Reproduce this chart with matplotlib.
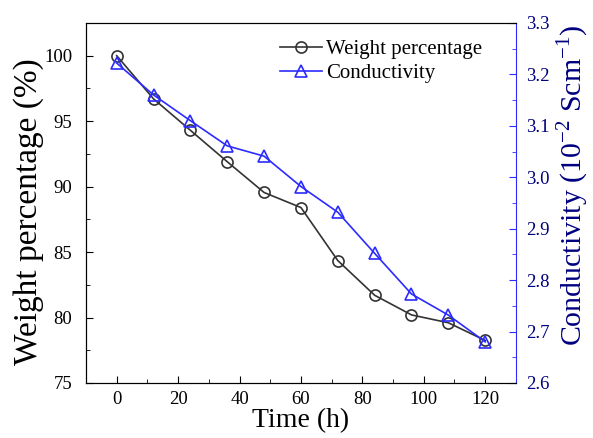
import matplotlib
matplotlib.use("Agg")
import matplotlib.pyplot as plt
from matplotlib.ticker import MultipleLocator

# data
time_h = [0, 12, 24, 36, 48, 60, 72, 84, 96, 108, 120]
weight_pct = [100.0, 96.7, 94.3, 91.9, 89.55, 88.4, 84.35, 81.7, 80.2, 79.6, 78.25]
conductivity = [3.222, 3.16, 3.11, 3.061, 3.041, 2.982, 2.932, 2.852, 2.773, 2.732, 2.68]

plt.rcParams["font.family"] = ["Liberation Serif", "DejaVu Serif"]
plt.rcParams["mathtext.fontset"] = "custom"
plt.rcParams["mathtext.rm"] = "Liberation Serif"

BLUE = "#2b2bff"
NAVY = "#000080"

fig = plt.figure(figsize=(5.93, 4.38), dpi=100)
ax = fig.add_axes([0.145, 0.1256, 0.725, 0.822])
ax2 = ax.twinx()

l1, = ax.plot(time_h, weight_pct, color="#333333", lw=1.2, marker="o", ms=8,
              mfc="none", mec="#333333", mew=1.2, label="Weight percentage")
l2, = ax2.plot(time_h, conductivity, color=BLUE, lw=1.2, marker="^", ms=9,
               mfc="none", mec=BLUE, mew=1.2, label="Conductivity")

ax.set_xlim(-10, 130)
ax.set_ylim(75, 102.5)
ax2.set_ylim(2.6, 3.3)

ax.xaxis.set_major_locator(MultipleLocator(20))
ax.xaxis.set_minor_locator(MultipleLocator(10))
ax.yaxis.set_major_locator(MultipleLocator(5))
ax.yaxis.set_minor_locator(MultipleLocator(2.5))
ax2.yaxis.set_major_locator(MultipleLocator(0.1))
ax2.yaxis.set_minor_locator(MultipleLocator(0.05))

ax.tick_params(which="both", direction="in", top=False, labelsize=13.5)
ax.tick_params(which="major", length=5)
ax.tick_params(which="minor", length=3)
ax.tick_params(axis="y", which="both", pad=10)
ax.tick_params(axis="x", which="both", pad=6)
ax2.tick_params(which="both", direction="in", colors=BLUE, labelcolor=NAVY,
                labelsize=13.5, pad=7)
ax2.tick_params(which="major", length=5)
ax2.tick_params(which="minor", length=3)
ax2.spines["right"].set_color(BLUE)
ax.spines["right"].set_visible(False)
ax2.yaxis.set_major_formatter(plt.FormatStrFormatter("%.1f"))

ax.set_xlabel("Time (h)", fontsize=20, labelpad=0)
ax.set_ylabel("Weight percentage (%)", fontsize=24)
ax.yaxis.set_label_coords(-0.098, 0.475)
ax2.set_ylabel("Conductivity (10$^{-2}$ Scm$^{-1}$)", fontsize=21.5, color=NAVY)
ax2.yaxis.set_label_coords(1.09, 0.55)

ax.legend(handles=[l1, l2], loc="upper right", frameon=False, fontsize=15,
          handlelength=2.0, handletextpad=0.2, borderaxespad=0.4, labelspacing=0.2,
          bbox_to_anchor=(0.96, 1.0))

fig.savefig("out.png", dpi=100)
